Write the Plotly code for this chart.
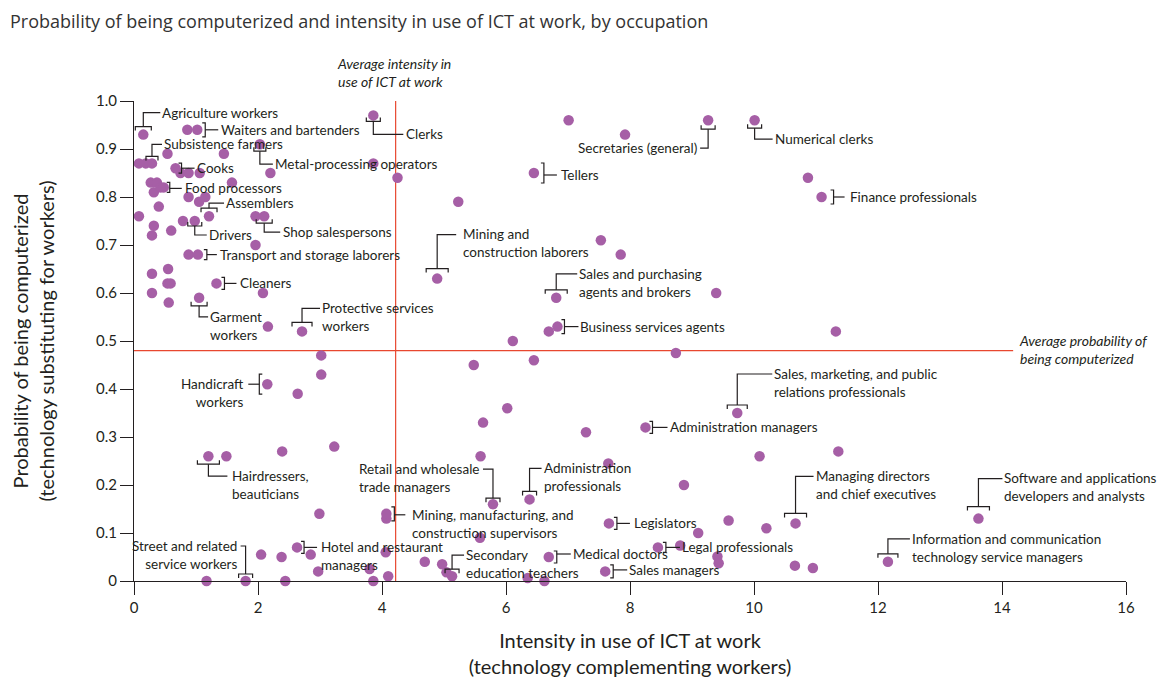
import plotly.graph_objects as go

# ---------------- data ----------------
labeled_occupations = [
    "Agriculture workers", "Waiters and bartenders", "Clerks", "Subsistence farmers",
    "Metal-processing operators", "Cooks", "Food processors", "Assemblers", "Drivers",
    "Shop salespersons", "Transport and storage laborers", "Cleaners", "Garment<br>workers",
    "Protective services<br>workers", "Handicraft<br>workers", "Hairdressers,<br>beauticians",
    "Retail and wholesale<br>trade managers", "Administration<br>professionals",
    "Mining, manufacturing, and<br>construction supervisors", "Hotel and restaurant<br>managers",
    "Street and related<br>service workers", "Secondary<br>education teachers", "Medical doctors",
    "Sales managers", "Legal professionals", "Legislators", "Administration managers",
    "Sales, marketing, and public<br>relations professionals",
    "Managing directors<br>and chief executives",
    "Software and applications<br>developers and analysts",
    "Information and communication<br>technology service managers",
    "Mining and<br>construction laborers", "Sales and purchasing<br>agents and brokers",
    "Business services agents", "Tellers", "Secretaries (general)", "Numerical clerks",
    "Finance professionals",
]
labeled_ict = [0.15, 1.02, 3.86, 0.29, 2.03, 0.67, 0.48, 1.21, 0.98, 2.10,
               1.03, 1.33, 1.05, 2.71, 2.15, 1.20, 5.79, 6.38, 4.07, 2.63,
               1.80, 5.13, 6.69, 7.60, 8.45, 7.66, 8.25, 9.73, 10.67, 13.62,
               12.16, 4.89, 6.81, 6.83, 6.45, 9.26, 10.01, 11.09]
labeled_prob = [0.93, 0.94, 0.97, 0.87, 0.91, 0.86, 0.82, 0.76, 0.75, 0.76,
                0.68, 0.62, 0.59, 0.52, 0.41, 0.26, 0.16, 0.17, 0.14, 0.07,
                0.00, 0.01, 0.05, 0.02, 0.07, 0.12, 0.32, 0.35, 0.12, 0.13,
                0.04, 0.63, 0.59, 0.53, 0.85, 0.96, 0.96, 0.80]

other_ict = [0.86, 0.54, 1.45, 0.08, 0.19, 3.86, 0.75, 0.88, 1.06, 2.20,
             4.25, 0.27, 0.37, 0.32, 0.43, 1.58, 0.40, 0.88, 1.05, 1.15,
             5.23, 0.08, 0.32, 0.60, 0.79, 1.96, 0.29, 1.96, 0.88, 0.55,
             0.29, 0.54, 0.59, 0.29, 0.56, 2.08, 2.16, 3.02, 3.02, 2.64,
             1.49, 2.39, 3.23, 2.99, 4.07, 2.85, 2.05, 2.38, 2.97, 4.06,
             3.80, 1.17, 2.44, 3.86, 4.10, 4.69, 4.97, 5.04, 7.01, 7.92,
             10.87, 7.53, 7.85, 9.39, 11.32, 6.69, 6.11, 8.74, 5.48, 6.45,
             6.02, 5.63, 7.29, 5.59, 7.65, 10.09, 11.36, 8.87, 9.59, 9.10,
             10.20, 5.58, 6.35, 6.62, 8.81, 9.41, 9.43, 10.66, 10.95]
other_prob = [0.94, 0.89, 0.89, 0.87, 0.87, 0.87, 0.85, 0.85, 0.85, 0.85,
              0.84, 0.83, 0.83, 0.81, 0.82, 0.83, 0.78, 0.80, 0.79, 0.80,
              0.79, 0.76, 0.74, 0.73, 0.75, 0.76, 0.72, 0.70, 0.68, 0.65,
              0.64, 0.62, 0.62, 0.60, 0.58, 0.60, 0.53, 0.47, 0.43, 0.39,
              0.26, 0.27, 0.28, 0.14, 0.13, 0.055, 0.055, 0.05, 0.02, 0.06,
              0.025, 0.0, 0.0, 0.0, 0.01, 0.04, 0.035, 0.018, 0.96, 0.93,
              0.84, 0.71, 0.68, 0.60, 0.52, 0.52, 0.50, 0.475, 0.45, 0.46,
              0.36, 0.33, 0.31, 0.26, 0.245, 0.26, 0.27, 0.20, 0.126, 0.10,
              0.11, 0.09, 0.006, 0.0, 0.074, 0.051, 0.037, 0.032, 0.027]

avg_ict = 4.22
avg_prob = 0.48

x_tick_vals = [0, 2, 4, 6, 8, 10, 12, 14, 16]
y_tick_vals = [0, 0.1, 0.2, 0.3, 0.4, 0.5, 0.6, 0.7, 0.8, 0.9, 1.0]
y_tick_text = ["0", "0.1", "0.2", "0.3", "0.4", "0.5", "0.6", "0.7", "0.8", "0.9", "1.0"]

# ---------------- label geometry (pixel offsets from the point; right/down positive) ----
LABEL_GEOM = [
    dict(kind="top", gap=8, w=8, stem=22, lead=17, tx=18),
    dict(kind="right", gap=8, h=7, lead=21, tx=23, ty=0),
    dict(kind="bottom", gap=6, w=7, stem=19, lead=30, tx=32),
    dict(kind="top", gap=7, w=6, stem=19, lead=10, tx=11),
    dict(kind="bottom", gap=7, w=6, stem=20, lead=13, tx=14),
    dict(kind="right", gap=6, h=5, lead=19, tx=20, ty=0),
    dict(kind="right", gap=6, h=5, lead=18, tx=20, ty=1),
    dict(kind="top", gap=8, w=8, stem=13, lead=15, tx=16),
    dict(kind="bottom", gap=5, w=7, stem=14, lead=12, tx=13),
    dict(kind="bottom", gap=7, w=8, stem=16, lead=16, tx=18),
    dict(kind="right", gap=9, h=5, lead=19, tx=21, ty=0),
    dict(kind="right", gap=8, h=6, lead=20, tx=23, ty=0),
    dict(kind="bottom", gap=8, w=8, stem=19, lead=9, tx=10),
    dict(kind="top", gap=9, w=10, stem=23, lead=18, tx=19),
    dict(kind="left", gap=8, h=10, lead=19, tx=22, ty=0, align="right"),
    dict(kind="bottom", gap=8, w=11, stem=20, lead=19, tx=23),
    dict(kind="top", gap=6, w=7, stem=35, lead=-10, tx=-12, align="left"),
    dict(kind="top", gap=8, w=7, stem=31, lead=12, tx=13),
    dict(kind="right", gap=8, h=7, lead=19, tx=25, ty=1),
    dict(kind="right", gap=7, h=6, lead=20, tx=23, ty=0),
    dict(kind="top", gap=7, w=7, stem=35, lead=-5, tx=-8, align="right"),
    dict(kind="top", gap=7, w=7, stem=21, lead=12, tx=13),
    dict(kind="right", gap=8, h=6, lead=22, tx=23, ty=-3),
    dict(kind="right", gap=8, h=6.5, lead=22, tx=23, ty=-1.5),
    dict(kind="right", gap=8, h=5, lead=22, tx=23, ty=0),
    dict(kind="right", gap=8, h=6, lead=21, tx=24, ty=0),
    dict(kind="right", gap=7, h=6, lead=22, tx=23, ty=0),
    dict(kind="top", gap=8, w=10, stem=39, lead=35, tx=36),
    dict(kind="top", gap=10, w=11, stem=47, lead=18, tx=19),
    dict(kind="top", gap=12, w=11, stem=40, lead=24, tx=25),
    dict(kind="top", gap=8, w=10, stem=23, lead=22, tx=23),
    dict(kind="top", gap=10, w=11, stem=44, lead=19, tx=25),
    dict(kind="top", gap=8, w=11, stem=24, lead=21, tx=22),
    dict(kind="right", gap=7, h=7, lead=21, tx=22, ty=0),
    dict(kind="right", gap=10, h=10, lead=23, tx=26, ty=2),
    dict(kind="bottom", gap=9, w=7, stem=28, lead=-8, tx=-10),
    dict(kind="bottom", gap=8, w=7, stem=19, lead=18, tx=19),
    dict(kind="right", gap=12, h=7, lead=23, tx=27, ty=0),
]

# ---------------- layout constants ----------------
# the page body has an 8px margin, so the figure is drawn 8px in from the corner
PAGE_OFF = 8
W, H = 1169 - PAGE_OFF, 679 - PAGE_OFF
ML, MR, MT, MB = 134 - PAGE_OFF, 43, 101 - PAGE_OFF, 98
PW, PH = W - ML - MR, H - MT - MB
X_RANGE = [0, 16]
Y_RANGE = [0, 1]
SX = (X_RANGE[1] - X_RANGE[0]) / PW
SY = (Y_RANGE[1] - Y_RANGE[0]) / PH

INK = "#231f20"
PURPLE = "#a65fa6"
RED = "#e8472f"
FONT = "Lato"
LABEL_SIZE = 13.5
LINE_H = LABEL_SIZE * 1.3


def path_from_px(x0, y0, pts):
    """pts: list of (dx, dy) pixel offsets (down positive) -> SVG path in data coords."""
    segs = []
    for i, (dx, dy) in enumerate(pts):
        segs.append(("M" if i == 0 else "L") + f"{x0 + dx * SX:.5f},{y0 - dy * SY:.5f}")
    return " ".join(segs)


fig = go.Figure()

# reference lines
fig.add_shape(type="line", x0=avg_ict, x1=avg_ict, y0=Y_RANGE[0], y1=Y_RANGE[1],
              line=dict(color=RED, width=1.2), layer="below")
fig.add_shape(type="line", x0=X_RANGE[0], x1=14.18, y0=avg_prob, y1=avg_prob,
              line=dict(color=RED, width=1.2), layer="below")

fig.add_trace(go.Scatter(
    x=other_ict + labeled_ict, y=other_prob + labeled_prob, mode="markers",
    marker=dict(color=PURPLE, size=10.5, line=dict(width=0)),
    cliponaxis=False, showlegend=False, hoverinfo="x+y",
))

annotations = []
for name, xv, yv, g in zip(labeled_occupations, labeled_ict, labeled_prob, LABEL_GEOM):
    k = g["kind"]
    n_lines = name.count("<br>") + 1
    if k == "top":
        bar = [(-g["w"], -g["gap"] + 4), (-g["w"], -g["gap"]), (g["w"], -g["gap"]), (g["w"], -g["gap"] + 4)]
        lead = [(0, -g["gap"]), (0, -g["stem"]), (g["lead"], -g["stem"])]
        ty = -g["stem"]
    elif k == "bottom":
        bar = [(-g["w"], g["gap"] - 4), (-g["w"], g["gap"]), (g["w"], g["gap"]), (g["w"], g["gap"] - 4)]
        lead = [(0, g["gap"]), (0, g["stem"]), (g["lead"], g["stem"])]
        ty = g["stem"]
    elif k == "right":
        c = g.get("ty", 0)
        bar = [(g["gap"] - 3, -g["h"]), (g["gap"], -g["h"]), (g["gap"], g["h"]), (g["gap"] - 3, g["h"])]
        lead = [(g["gap"], c), (g["lead"], c)]
        ty = c
    else:  # left
        c = g.get("ty", 0)
        bar = [(-g["gap"] + 3, -g["h"]), (-g["gap"], -g["h"]), (-g["gap"], g["h"]), (-g["gap"] + 3, g["h"])]
        lead = [(-g["gap"], c), (-g["lead"], c)]
        ty = c
    tx = g["tx"] if k != "left" else -g["tx"]
    for pts in (bar, lead):
        fig.add_shape(type="path", path=path_from_px(xv, yv, pts),
                      line=dict(color=INK, width=1.2))
    annotations.append(dict(
        x=xv, y=yv, xref="x", yref="y", text=name, showarrow=False,
        xanchor="left" if tx >= 0 else "right", yanchor="middle",
        align=g.get("align", "left"), borderpad=0,
        xshift=tx, yshift=-(ty + (n_lines - 1) * LINE_H / 2),
        font=dict(family=FONT, size=LABEL_SIZE, color=INK),
    ))

# average notes
annotations.append(dict(
    x=avg_ict, y=Y_RANGE[1], xref="x", yref="y", showarrow=False,
    text="<i>Average intensity in<br>use of ICT at work</i>", align="left",
    xanchor="left", yanchor="middle", xshift=-60, yshift=29, borderpad=0,
    font=dict(family=FONT, size=14, color=INK)))
annotations.append(dict(
    x=14.18, y=avg_prob, xref="x", yref="y", showarrow=False,
    text="<i>Average probability of<br>being computerized</i>", align="left",
    xanchor="left", yanchor="middle", xshift=5, yshift=10 - 14 * 1.3 / 2, borderpad=0,
    font=dict(family=FONT, size=14, color=INK)))

axis_common = dict(
    showline=True, linecolor=INK, linewidth=1, showgrid=False, zeroline=False,
    ticks="outside", ticklen=13, tickcolor=INK, tickwidth=1,
    tickfont=dict(family=FONT, size=15, color=INK), automargin=False, fixedrange=True,
)

fig.update_layout(
    width=W, height=H, autosize=False,
    margin=dict(l=ML, r=MR, t=MT, b=MB),
    paper_bgcolor="white", plot_bgcolor="white",
    title=dict(text="Probability of being computerized and intensity in use of ICT at work, by occupation",
               x=(10 - PAGE_OFF) / W, xanchor="left", xref="container",
               y=1 - (22 - PAGE_OFF) / H, yanchor="middle",
               font=dict(family="Open Sans", size=18, color="#333333")),
    xaxis=dict(range=X_RANGE, tickvals=x_tick_vals, **axis_common,
               title=dict(text="Intensity in use of ICT at work<br>(technology complementing workers)",
                          font=dict(family=FONT, size=20, color=INK), standoff=18)),
    yaxis=dict(range=Y_RANGE, tickvals=y_tick_vals, ticktext=y_tick_text, **axis_common,
               title=dict(text="Probability of being computerized<br>(technology substituting for workers)",
                          font=dict(family=FONT, size=20, color=INK), standoff=37)),
    annotations=annotations,
    showlegend=False,
)

fig.write_html("out.html")
